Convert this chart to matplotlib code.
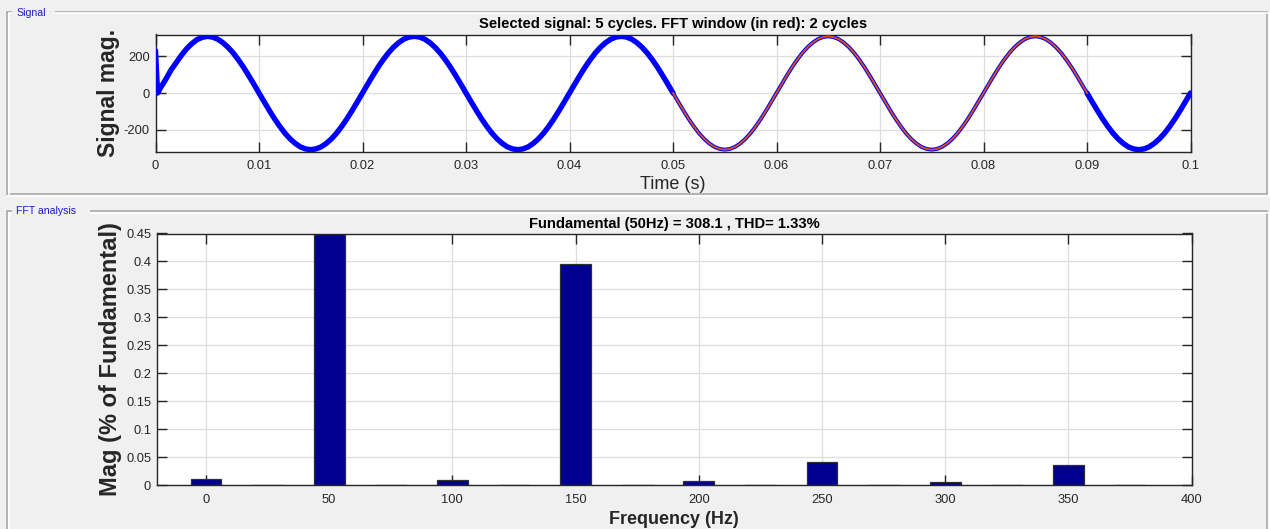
import numpy as np
import matplotlib
matplotlib.use("Agg")
import matplotlib.pyplot as plt
from matplotlib.patches import Rectangle

plt.rcParams['font.family'] = ['Liberation Sans', 'DejaVu Sans']
plt.rcParams['axes.unicode_minus'] = False

# ---------------- data ----------------
sig_t = [0.0, 0.0002] + [round(0.0005 * k, 4) for k in range(1, 201)]
cycle = [0, 48, 95, 140, 181, 218, 249, 274, 293, 304,
         308, 304, 293, 274, 249, 218, 181, 140, 95, 48,
         0, -48, -95, -140, -181, -218, -249, -274, -293, -304,
         -308, -304, -293, -274, -249, -218, -181, -140, -95, -48]
sig_first = [230, 0,
             30, 75, 125, 165, 205, 240, 268, 290, 302,
             308, 304, 293, 274, 249, 218, 181, 140, 95, 48,
             0, -48, -95, -140, -181, -218, -249, -274, -293, -304,
             -308, -304, -293, -274, -249, -218, -181, -140, -95, -48]
sig_rest = cycle * 4 + [0]
sig_v = sig_first + sig_rest
win_start, win_end = 0.05, 0.09

# FFT spectrum (% of fundamental)
fft_freq = [0, 25, 50, 75, 100, 125, 150, 175, 200, 225, 250, 275, 300, 325, 350, 375]
fft_mag = [0.011, 0.001, 100.0, 0.001, 0.009, 0.001, 0.395, 0.001, 0.007, 0.001,
           0.042, 0.001, 0.006, 0.001, 0.037, 0.001]

top_title = "Selected signal: 5 cycles. FFT window (in red): 2 cycles"
bot_title = "Fundamental (50Hz) = 308.1 , THD= 1.33%"
top_xticks = [0, 0.01, 0.02, 0.03, 0.04, 0.05, 0.06, 0.07, 0.08, 0.09, 0.1]
top_xticklabels = ["0", "0.01", "0.02", "0.03", "0.04", "0.05", "0.06", "0.07", "0.08", "0.09", "0.1"]
top_yticks = [-200, 0, 200]
bot_xticks = [0, 50, 100, 150, 200, 250, 300, 350, 400]
bot_yticks = [0, 0.05, 0.1, 0.15, 0.2, 0.25, 0.3, 0.35, 0.4, 0.45]
bot_yticklabels = ["0", "0.05", "0.1", "0.15", "0.2", "0.25", "0.3", "0.35", "0.4", "0.45"]

# ---------------- figure ----------------
W, H = 1270, 529
fig = plt.figure(figsize=(W / 100, H / 100), dpi=100, facecolor='#F0F0F0')

# panels (etched borders)
def panel(x0, y0, x1, y1, label, lab_w):
    for off, col in ((0, '#A8A8A8'), (1.5, '#FFFFFF')):
        r = Rectangle(((x0 + off) / W, 1 - (y1 + off) / H), (x1 - x0) / W, (y1 - y0) / H,
                      transform=fig.transFigure, fill=False, edgecolor=col, lw=1.2, zorder=0)
        fig.add_artist(r)
    fig.add_artist(Rectangle(((x0 + 5) / W, 1 - (y0 + 7) / H), lab_w / W, 12 / H,
                             transform=fig.transFigure, facecolor='#F0F0F0', edgecolor='none', zorder=1))
    fig.text((x0 + 9) / W, 1 - (y0 + 0.5) / H, label, color='#1A1AC8', fontsize=7.6,
             va='center', ha='left', zorder=2)

panel(7, 12, 1267, 194, "Signal", 43)
panel(7, 211, 1267, 560, "FFT analysis", 78)

tick_col = '#262626'
grid_col = '#DEDEDE'

def style(ax):
    ax.set_facecolor('white')
    for s in ax.spines.values():
        s.set_color(tick_col)
        s.set_linewidth(1.0)
    ax.tick_params(direction='in', length=7, width=1.0, color=tick_col,
                   labelcolor=tick_col, labelsize=9.3, top=True, right=True,
                   labeltop=False, labelright=False)
    ax.tick_params(axis='x', pad=6)
    ax.tick_params(axis='y', pad=4)
    ax.grid(True, color=grid_col, lw=0.9)
    ax.set_axisbelow(True)

# ---- top axes
ax1 = fig.add_axes([155.5 / W, 1 - 151.5 / H, (1190.5 - 155.5) / W, (151.5 - 34.5) / H])
style(ax1)
t = np.array(sig_t)
v = np.array(sig_v)
kw = dict(solid_capstyle='round', solid_joinstyle='round', zorder=3)
ax1.plot(t, v, color='#0000FF', lw=2.8, **kw)
m1 = t <= win_start
m2 = t >= win_end
ax1.plot(t[m1], v[m1], color='#0000FF', lw=3.9, **kw)
ax1.plot(t[m2], v[m2], color='#0000FF', lw=3.9, **kw)
mw = (t >= win_start) & (t <= win_end)
ax1.plot(t[mw], v[mw], color='#D95319', lw=1.3, solid_joinstyle='round', zorder=4)
ax1.set_xlim(0, 0.1)
ax1.set_ylim(-318, 318)
ax1.set_xticks(top_xticks)
ax1.set_xticklabels(top_xticklabels)
ax1.set_yticks(top_yticks)
ax1.set_title(top_title, fontsize=10.6, fontweight='bold', color='black', pad=5)
ax1.set_xlabel("Time (s)", fontsize=13, color=tick_col, labelpad=3)
ax1.set_ylabel("Signal mag.", fontsize=16.5, fontweight='bold', color=tick_col, labelpad=3)

# ---- bottom axes
ax2 = fig.add_axes([156.7 / W, 1 - 485.3 / H, (1191.5 - 156.7) / W, (485.3 - 233.5) / H])
style(ax2)
ax2.bar(fft_freq, fft_mag, width=12.5, color='#000090', edgecolor='#303030', lw=0.9, zorder=2)
ax2.set_xlim(-20, 400)
ax2.set_ylim(0, 0.45)
ax2.set_xticks(bot_xticks)
ax2.set_yticks(bot_yticks)
ax2.set_yticklabels(bot_yticklabels)
ax2.set_title(bot_title, fontsize=10.6, fontweight='bold', color='black', pad=4)
ax2.set_xlabel("Frequency (Hz)", fontsize=13, fontweight='bold', color=tick_col, labelpad=4)
ax2.set_ylabel("Mag (% of Fundamental)", fontsize=17, fontweight='bold', color=tick_col, labelpad=3)

fig.savefig("out.png", dpi=100, facecolor=fig.get_facecolor())
